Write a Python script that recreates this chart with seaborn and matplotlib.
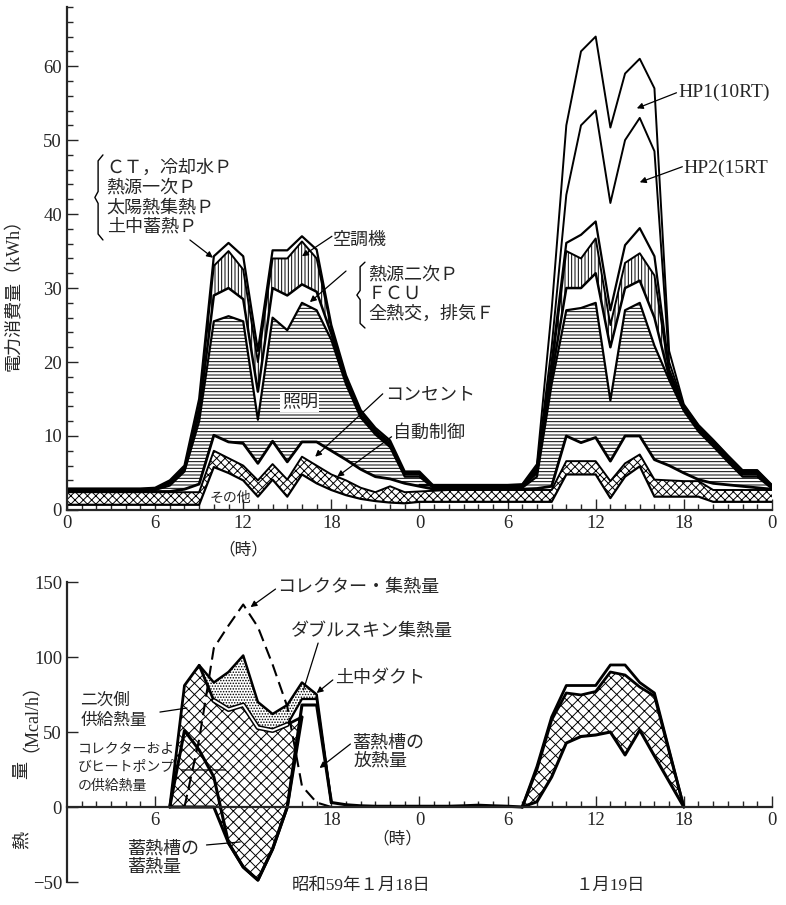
import numpy as np
import pandas as pd
import matplotlib.pyplot as plt
import seaborn as sns

# ---- upper chart: power use (kWh), cumulative top of each stacked layer, hourly 0..48 ----
hours = list(range(49))
sonota = [0.7, 0.7, 0.7, 0.7, 0.7, 0.7, 0.7, 0.7, 0.7, 0.7, 5.8, 5.0, 4.0, 1.8, 4.1, 1.8, 4.8, 3.6, 2.7, 2.0, 1.5, 1.2, 1.0, 0.9,
          1.1, 1.1, 1.1, 1.1, 1.1, 1.1, 1.1, 1.1, 1.1, 1.1, 4.8, 4.8, 4.8, 1.6, 4.5, 5.9, 1.8, 1.8, 1.8, 1.8, 1.1, 1.1, 1.1, 1.1, 1.1]
jido = [2.4, 2.4, 2.4, 2.4, 2.4, 2.4, 2.4, 2.4, 2.4, 2.4, 8.0, 7.0, 6.0, 4.0, 6.2, 4.1, 7.2, 6.0, 4.8, 4.0, 3.0, 2.4, 3.2, 2.4,
        2.5, 2.6, 2.7, 2.7, 2.7, 2.7, 2.7, 2.7, 2.7, 2.7, 6.6, 6.6, 6.6, 3.9, 6.3, 7.5, 4.1, 4.0, 3.9, 3.9, 2.7, 2.7, 2.7, 2.7, 2.7]
konsento = [2.5, 2.5, 2.5, 2.5, 2.5, 2.5, 2.5, 2.5, 2.8, 3.5, 10.1, 9.2, 9.0, 6.3, 9.3, 6.5, 9.2, 9.2, 8.0, 6.8, 5.5, 4.5, 4.2, 3.6,
            3.2, 2.8, 2.8, 2.8, 2.8, 2.8, 2.8, 2.8, 2.9, 3.2, 10.0, 9.1, 9.8, 6.6, 10.0, 10.0, 6.8, 6.0, 5.0, 4.1, 3.6, 3.4, 3.2, 3.0, 2.8]
shomei = [2.6, 2.6, 2.6, 2.6, 2.6, 2.6, 2.7, 3.3, 5.2, 12.0, 25.5, 26.2, 25.5, 12.2, 26.0, 24.3, 28.0, 27.0, 23.0, 17.0, 12.5, 10.2, 8.5, 4.5,
          4.5, 2.9, 2.9, 2.9, 2.9, 2.9, 2.9, 3.0, 4.5, 17.0, 27.0, 27.3, 28.0, 14.8, 27.0, 28.0, 22.2, 17.6, 13.4, 10.6, 8.6, 6.5, 4.5, 4.5, 2.9]
netsugen = [2.7, 2.7, 2.7, 2.7, 2.7, 2.7, 2.8, 3.6, 5.5, 13.0, 29.0, 30.0, 28.5, 16.0, 30.0, 29.0, 30.5, 29.5, 23.8, 17.4, 12.8, 10.5, 8.8, 4.8,
            4.8, 3.0, 3.0, 3.0, 3.0, 3.0, 3.0, 3.1, 5.0, 18.0, 30.0, 30.0, 32.0, 22.0, 30.0, 31.0, 26.0, 18.0, 13.6, 10.9, 8.9, 6.8, 4.8, 4.8, 3.0]
kucho = [2.8, 2.8, 2.8, 2.8, 2.8, 2.8, 2.9, 3.8, 5.7, 14.0, 33.0, 35.0, 32.5, 20.0, 34.0, 34.0, 36.3, 34.0, 24.5, 17.8, 13.2, 10.8, 9.1, 5.0,
         5.0, 3.1, 3.1, 3.1, 3.1, 3.1, 3.1, 3.2, 5.3, 19.0, 35.0, 34.0, 36.7, 25.0, 33.4, 34.7, 31.7, 18.5, 13.8, 11.1, 9.1, 7.0, 5.0, 5.0, 3.1]
ct = [2.9, 2.9, 2.9, 2.9, 2.9, 2.9, 3.0, 4.0, 6.0, 15.0, 34.3, 36.1, 34.3, 21.5, 35.1, 35.1, 37.0, 35.2, 25.0, 18.2, 13.5, 11.1, 9.4, 5.2,
      5.2, 3.2, 3.2, 3.2, 3.2, 3.2, 3.2, 3.3, 5.6, 20.0, 36.1, 37.2, 39.0, 27.0, 35.8, 38.1, 34.3, 19.0, 14.0, 11.3, 9.3, 7.2, 5.2, 5.2, 3.2]
hp_hours = list(range(24, 49))
hp2 = [3.3, 3.3, 3.3, 3.3, 3.3, 3.3, 3.3, 3.4, 5.9, 22.0, 42.6, 52.0, 54.0, 41.5, 50.0, 53.0, 48.5, 20.0, 14.1, 11.4, 9.4, 7.3, 5.3, 5.3, 3.3]
hp1 = [3.4, 3.4, 3.4, 3.4, 3.4, 3.4, 3.4, 3.5, 6.2, 27.0, 52.0, 62.0, 64.0, 51.7, 59.0, 61.0, 57.0, 21.5, 14.3, 11.5, 9.5, 7.4, 5.4, 5.4, 3.4]

# ---- lower chart: heat (Mcal/h) ----
col_hours = list(range(8, 19))
collector = [0, 45, 106, 121, 135, 120, 95, 67, 14, 3, 0]
cross_hours = list(range(7, 17))
cross_top = [0, 81, 94.5, 71, 65, 68, 53, 51, 55, 60]
cross_bottom = [0, 0, 0, 0, -24, -40, -48.7, -28, 0, 60]
ds_hours = list(range(9, 19))
ds_bottom = [94.5, 71, 65, 68, 53, 51, 55, 72, 72, 3]
ds_top = [94.5, 83, 90, 101, 70, 62, 68, 83, 75, 3]
tank_hours = list(range(7, 19))
tank = [0, 51, 38, 20, -24, -40, -48.7, -28, 0, 68, 68, 3]
base_hours = list(range(18, 32))
base = [3, 1.5, 0.8, 0.5, 0.5, 0.5, 0.5, 0.5, 0.5, 0.8, 1.2, 0.8, 0.5, 0]
d2_hours = list(range(31, 43))
d2_outer = [0, 27, 60, 81, 81, 81, 94.7, 94.7, 83, 76, 38, 0]
d2_top = [0, 25, 58, 76, 74.7, 77, 90, 88, 80, 74, 37, 0]
d2_bottom = [0, 3.5, 20, 42.7, 47, 48, 50, 34.7, 51.3, 34, 17, 0]

xticks = list(range(0, 49, 6))
xlabels = ['0', '6', '12', '18', '0', '6', '12', '18', '0']

sns.set_style('ticks')
plt.rcParams['font.family'] = ['Liberation Serif', 'Noto Sans CJK JP']
plt.rcParams['hatch.color'] = 'black'
plt.rcParams['hatch.linewidth'] = 0.7

fig = plt.figure(figsize=(7.86, 9.05), dpi=100)


def line(ax, x, y, lw=1.5, **kw):
    sns.lineplot(x=x, y=y, ax=ax, color='black', linewidth=lw, legend=False, **kw)


def arrow(ax, start, tip, head=True):
    ax.annotate('', xy=tip, xytext=start, annotation_clip=False,
                arrowprops=dict(arrowstyle='-|>' if head else '-', color='black', lw=0.9,
                                mutation_scale=9, shrinkA=0, shrinkB=0))


def brace(ax, x, y0, y1, w):
    fr = np.array([0, 0.07, 0.43, 0.5, 0.57, 0.93, 1])
    xo = np.array([1, 0.4, 0.4, 0, 0.4, 0.4, 1]) * w
    ax.plot(x + xo, y1 - fr * (y1 - y0), color='black', lw=1.0, clip_on=False)


# ================= upper chart =================
ax1 = fig.add_axes([0.0852, 0.4365, 0.8969, 0.5558])
ax1.set_xlim(0, 48)
ax1.set_ylim(0, 68)

ax1.fill_between(hours, sonota, jido, facecolor='white', edgecolor='black', hatch='xxxx', linewidth=0)
ax1.fill_between(hours, konsento, shomei, facecolor='white', edgecolor='black', hatch='-----', linewidth=0)
ax1.fill_between(hours, netsugen, kucho, facecolor='white', edgecolor='black', hatch='|||||', linewidth=0)

line(ax1, hours, sonota, 1.6)
line(ax1, hours, jido, 1.4)
line(ax1, hours, konsento, 2.0)
line(ax1, hours, shomei, 1.6)
line(ax1, hours, netsugen, 1.8)
line(ax1, hours, kucho, 1.4)
line(ax1, hours, ct, 1.6)
line(ax1, hp_hours, hp2, 1.4)
line(ax1, hp_hours, hp1, 1.4)

for s in ['top', 'right']:
    ax1.spines[s].set_visible(False)
for s in ['left', 'bottom']:
    ax1.spines[s].set_linewidth(1.6)
ax1.set_xticks(xticks)
ax1.set_xticklabels(xlabels)
ax1.set_xticks(hours, minor=True)
ax1.set_yticks(range(0, 61, 10))
ax1.set_yticks(range(0, 69, 2), minor=True)
ax1.tick_params(which='both', direction='in', labelsize=13.5, width=1.0)
ax1.tick_params(which='major', length=8)
ax1.tick_params(which='minor', length=4)
ax1.set_xlabel('')
ax1.set_ylabel('')

ax1.text(12.0, -5.4, '（時）', fontsize=12, ha='center', va='center')

brace(ax1, 1.9, 36.5, 48.0, 0.55)
ax1.text(2.7, 42.2, 'ＣＴ，冷却水Ｐ\n熱源一次Ｐ\n太陽熱集熱Ｐ\n土中蓄熱Ｐ', fontsize=13,
         ha='left', va='center', linespacing=1.2)
arrow(ax1, (8.37, 36.5), (9.94, 34.1))

ax1.text(18.1, 36.5, '空調機', fontsize=13, ha='left', va='center')
arrow(ax1, (18.04, 37.0), (16.0, 34.3))

brace(ax1, 19.74, 24.6, 33.5, 0.55)
ax1.text(20.5, 29.1, '熱源二次Ｐ\nＦＣＵ\n全熱交，排気Ｆ', fontsize=13,
         ha='left', va='center', linespacing=1.2)
arrow(ax1, (19.0, 32.3), (16.54, 28.1))

ax1.text(15.86, 14.6, '照明', fontsize=13, ha='center', va='center',
         bbox=dict(facecolor='white', edgecolor='none', pad=1))
ax1.text(21.65, 15.5, 'コンセント', fontsize=13, ha='left', va='center')
arrow(ax1, (21.5, 15.7), (16.9, 7.2))
ax1.text(22.2, 10.4, '自動制御', fontsize=13, ha='left', va='center')
arrow(ax1, (22.1, 9.9), (18.4, 4.5))
ax1.text(11.1, 1.6, 'その他', fontsize=10, ha='center', va='center')

ax1.text(41.66, 56.4, 'HP1(10RT)', fontsize=14, ha='left', va='center', clip_on=False)
arrow(ax1, (41.5, 56.4), (38.8, 54.3))
ax1.text(42.0, 46.2, 'HP2(15RT', fontsize=14, ha='left', va='center', clip_on=False)
arrow(ax1, (41.9, 46.4), (39.0, 44.3))

# ================= lower chart =================
ax2 = fig.add_axes([0.0852, 0.0254, 0.8969, 0.3315])
ax2.set_xlim(0, 48)
ax2.set_ylim(-50, 150)

ax2.fill_between(cross_hours, cross_bottom, cross_top, facecolor='white', edgecolor='black', hatch='xxx', linewidth=0)
ax2.fill_between(ds_hours, ds_bottom, ds_top, facecolor='white', edgecolor='black', hatch='......', linewidth=0)
ax2.fill_between(d2_hours, d2_bottom, d2_top, facecolor='white', edgecolor='black', hatch='xxx', linewidth=0)

line(ax2, cross_hours, cross_top, 2.0)
line(ax2, cross_hours, cross_bottom, 2.2)
line(ax2, ds_hours, ds_top, 1.8)
line(ax2, ds_hours[1:7], ds_bottom[1:7], 3.6)
line(ax2, ds_hours[1:7], ds_bottom[1:7], 1.4, zorder=5)
ax2.lines[-1].set_color('white')
line(ax2, ds_hours[6:], ds_bottom[6:], 1.6)
line(ax2, tank_hours, tank, 2.2)
line(ax2, base_hours, base, 2.2)
line(ax2, col_hours, collector, 1.5, linestyle=(0, (6, 3)))
line(ax2, d2_hours, d2_outer, 2.0)
line(ax2, d2_hours, d2_top, 2.0)
line(ax2, d2_hours, d2_bottom, 2.2)

ax2.spines['top'].set_visible(False)
ax2.spines['right'].set_visible(False)
ax2.spines['bottom'].set_position(('data', 0))
for s in ['left', 'bottom']:
    ax2.spines[s].set_linewidth(1.6)
ax2.set_xticks(xticks[1:])
ax2.set_xticklabels(xlabels[1:])
ax2.set_xticks(hours[1:], minor=True)
ax2.set_yticks([-50, 0, 50, 100, 150])
ax2.set_yticklabels(['−50', '0', '50', '100', '150'])
ax2.tick_params(which='both', direction='in', labelsize=13.5, width=1.0)
ax2.tick_params(which='major', length=8)
ax2.tick_params(which='minor', length=4)
ax2.set_xlabel('')
ax2.set_ylabel('')

ax2.text(22.5, -21.5, '（時）', fontsize=12, ha='center', va='center')
ax2.text(20.0, -52.7, '昭和59年１月18日', fontsize=12.5, ha='center', va='center', clip_on=False)
ax2.text(37.0, -52.7, '１月19日', fontsize=12.5, ha='center', va='center', clip_on=False)

ax2.text(14.3, 146.7, 'コレクター・集熱量', fontsize=13, ha='left', va='center', clip_on=False)
arrow(ax2, (14.2, 145.3), (12.5, 133.3))
ax2.text(15.25, 116.7, 'ダブルスキン集熱量', fontsize=13, ha='left', va='center')
arrow(ax2, (17.1, 109.3), (16.1, 78), head=False)
ax2.text(18.25, 86, '土中ダクト', fontsize=13, ha='left', va='center')
arrow(ax2, (18.1, 84.7), (17.0, 76))
ax2.text(0.9, 64, '二次側\n供給熱量', fontsize=12, ha='left', va='center', linespacing=1.3)
arrow(ax2, (6.33, 63.3), (8.17, 66), head=False)
ax2.text(0.75, 26, 'コレクターおよ\nびヒートポンプ\nの供給熱量', fontsize=10, ha='left', va='center', linespacing=1.5)
arrow(ax2, (7.8, 24.7), (10.8, 24.7), head=False)
ax2.text(4.15, -34, '蓄熱槽の\n蓄熱量', fontsize=13, ha='left', va='center', linespacing=1.1)
arrow(ax2, (9.5, -25.3), (11.8, -23.3), head=False)
ax2.text(19.5, 36.7, '蓄熱槽の\n放熱量', fontsize=13, ha='left', va='center', linespacing=1.1)
arrow(ax2, (19.3, 42), (17.2, 26))

fig.text(14 / 786, 1 - 290 / 905, '電力消費量（kWh）', rotation=90, fontsize=13, ha='center', va='center')
fig.text(22 / 786, 1 - 840 / 905, '熱', rotation=90, fontsize=13, ha='center', va='center')
fig.text(22 / 786, 1 - 770 / 905, '量', rotation=90, fontsize=13, ha='center', va='center')
fig.text(22 / 786, 1 - 708 / 905, '（Mcal/h）', rotation=90, fontsize=13, ha='center', va='center')

fig.savefig('out.png', dpi=100)
